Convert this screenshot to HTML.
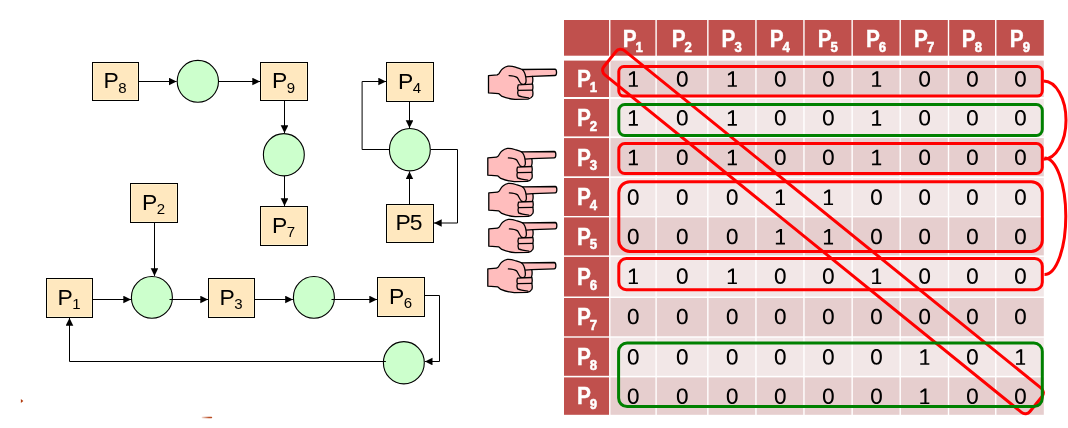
<!DOCTYPE html>
<html><head><meta charset="utf-8"><title>Deadlock matrix</title>
<style>
html,body{margin:0;padding:0;background:#fff;}
body{width:1068px;height:428px;overflow:hidden;position:relative;}
svg{position:absolute;left:0;top:0;display:block;will-change:transform;}
.th{font-family:"Liberation Sans",sans-serif;font-weight:bold;font-size:23.7px;fill:#fff;stroke:#fff;stroke-width:0.35px;text-anchor:middle;}
.tl{font-family:"Liberation Sans",sans-serif;font-size:22.9px;fill:#000;text-anchor:middle;}
.bx{fill:#FFE8BF;stroke:#000;stroke-width:1;}
.bxi{fill:none;stroke:#FFF1CC;stroke-width:1;}
.ci{fill:#CCFFCC;stroke:#000;stroke-width:1.1;}
.ln{fill:none;stroke:#000;stroke-width:1;}
.hf{fill:#FFBDBD;stroke:#000;stroke-width:1.3;stroke-linejoin:round;}
.hl{fill:none;stroke:#000;stroke-width:1.3;stroke-linecap:round;stroke-linejoin:round;}
</style></head>
<body>
<svg width="1068" height="428" viewBox="0 0 1068 428">
<defs>
<marker id="ah" markerWidth="8" markerHeight="8" refX="7.7" refY="3.8" orient="auto" markerUnits="userSpaceOnUse">
<path d="M0,0 L7.7,3.8 L0,7.6 Z" fill="#000"/>
</marker>
<g id="d1"><path d="M-0.45,-7.6 L1.6,-7.6 L1.6,6.3 L4.5,6.3 L4.5,7.9 L-4.6,7.9 L-4.6,6.3 L-0.45,6.3 L-0.45,-5.3 L-4,-3.2 L-4.6,-4.8 Z" fill="#000"/></g>
<g id="d0"><path d="M5.40,0.00 L5.36,1.38 L5.24,2.47 L5.05,3.44 L4.78,4.32 L4.43,5.11 L4.02,5.81 L3.54,6.41 L2.99,6.90 L2.38,7.29 L1.71,7.57 L0.95,7.74 L0.00,7.80 L-0.95,7.74 L-1.71,7.57 L-2.38,7.29 L-2.99,6.90 L-3.54,6.41 L-4.02,5.81 L-4.43,5.11 L-4.78,4.32 L-5.05,3.44 L-5.24,2.47 L-5.36,1.38 L-5.40,0.00 L-5.36,-1.38 L-5.24,-2.47 L-5.05,-3.44 L-4.78,-4.32 L-4.43,-5.11 L-4.02,-5.81 L-3.54,-6.41 L-2.99,-6.90 L-2.38,-7.29 L-1.71,-7.57 L-0.95,-7.74 L-0.00,-7.80 L0.95,-7.74 L1.71,-7.57 L2.38,-7.29 L2.99,-6.90 L3.54,-6.41 L4.02,-5.81 L4.43,-5.11 L4.78,-4.32 L5.05,-3.44 L5.24,-2.47 L5.36,-1.38Z M3.30,0.00 L3.28,1.07 L3.20,1.92 L3.08,2.67 L2.92,3.35 L2.71,3.97 L2.46,4.50 L2.16,4.97 L1.83,5.35 L1.46,5.66 L1.04,5.87 L0.58,6.01 L0.00,6.05 L-0.58,6.01 L-1.04,5.87 L-1.46,5.66 L-1.83,5.35 L-2.16,4.97 L-2.46,4.50 L-2.71,3.97 L-2.92,3.35 L-3.08,2.67 L-3.20,1.92 L-3.28,1.07 L-3.30,0.00 L-3.28,-1.07 L-3.20,-1.92 L-3.08,-2.67 L-2.92,-3.35 L-2.71,-3.97 L-2.46,-4.50 L-2.16,-4.97 L-1.83,-5.35 L-1.46,-5.66 L-1.04,-5.87 L-0.58,-6.01 L-0.00,-6.05 L0.58,-6.01 L1.04,-5.87 L1.46,-5.66 L1.83,-5.35 L2.16,-4.97 L2.46,-4.50 L2.71,-3.97 L2.92,-3.35 L3.08,-2.67 L3.20,-1.92 L3.28,-1.07Z" fill="#000" fill-rule="evenodd"/></g>
</defs>
<rect width="1068" height="428" fill="#fff"/>
<rect x="564" y="20" width="45.05" height="35.7" fill="#C0504D"/>
<rect x="610.45" y="20" width="44.95" height="35.7" fill="#C0504D"/>
<rect x="656.8" y="20" width="50.35" height="35.7" fill="#C0504D"/>
<rect x="708.55" y="20" width="46.7" height="35.7" fill="#C0504D"/>
<rect x="756.65" y="20" width="46.6" height="35.7" fill="#C0504D"/>
<rect x="804.65" y="20" width="46.8" height="35.7" fill="#C0504D"/>
<rect x="852.85" y="20" width="46.65" height="35.7" fill="#C0504D"/>
<rect x="900.9" y="20" width="46.9" height="35.7" fill="#C0504D"/>
<rect x="949.2" y="20" width="45.85" height="35.7" fill="#C0504D"/>
<rect x="996.45" y="20" width="47.35" height="35.7" fill="#C0504D"/>
<rect x="564" y="60.6" width="45.05" height="36.4" fill="#C0504D"/>
<rect x="610.45" y="60.6" width="44.95" height="36.4" fill="#E6CECE"/>
<rect x="656.8" y="60.6" width="50.35" height="36.4" fill="#E6CECE"/>
<rect x="708.55" y="60.6" width="46.7" height="36.4" fill="#E6CECE"/>
<rect x="756.65" y="60.6" width="46.6" height="36.4" fill="#E6CECE"/>
<rect x="804.65" y="60.6" width="46.8" height="36.4" fill="#E6CECE"/>
<rect x="852.85" y="60.6" width="46.65" height="36.4" fill="#E6CECE"/>
<rect x="900.9" y="60.6" width="46.9" height="36.4" fill="#E6CECE"/>
<rect x="949.2" y="60.6" width="45.85" height="36.4" fill="#E6CECE"/>
<rect x="996.45" y="60.6" width="47.35" height="36.4" fill="#E6CECE"/>
<rect x="564" y="99" width="45.05" height="37.4" fill="#C0504D"/>
<rect x="610.45" y="99" width="44.95" height="37.4" fill="#F2E7E7"/>
<rect x="656.8" y="99" width="50.35" height="37.4" fill="#F2E7E7"/>
<rect x="708.55" y="99" width="46.7" height="37.4" fill="#F2E7E7"/>
<rect x="756.65" y="99" width="46.6" height="37.4" fill="#F2E7E7"/>
<rect x="804.65" y="99" width="46.8" height="37.4" fill="#F2E7E7"/>
<rect x="852.85" y="99" width="46.65" height="37.4" fill="#F2E7E7"/>
<rect x="900.9" y="99" width="46.9" height="37.4" fill="#F2E7E7"/>
<rect x="949.2" y="99" width="45.85" height="37.4" fill="#F2E7E7"/>
<rect x="996.45" y="99" width="47.35" height="37.4" fill="#F2E7E7"/>
<rect x="564" y="138.1" width="45.05" height="38.2" fill="#C0504D"/>
<rect x="610.45" y="138.1" width="44.95" height="38.2" fill="#E6CECE"/>
<rect x="656.8" y="138.1" width="50.35" height="38.2" fill="#E6CECE"/>
<rect x="708.55" y="138.1" width="46.7" height="38.2" fill="#E6CECE"/>
<rect x="756.65" y="138.1" width="46.6" height="38.2" fill="#E6CECE"/>
<rect x="804.65" y="138.1" width="46.8" height="38.2" fill="#E6CECE"/>
<rect x="852.85" y="138.1" width="46.65" height="38.2" fill="#E6CECE"/>
<rect x="900.9" y="138.1" width="46.9" height="38.2" fill="#E6CECE"/>
<rect x="949.2" y="138.1" width="45.85" height="38.2" fill="#E6CECE"/>
<rect x="996.45" y="138.1" width="47.35" height="38.2" fill="#E6CECE"/>
<rect x="564" y="178" width="45.05" height="38" fill="#C0504D"/>
<rect x="610.45" y="178" width="44.95" height="38" fill="#F2E7E7"/>
<rect x="656.8" y="178" width="50.35" height="38" fill="#F2E7E7"/>
<rect x="708.55" y="178" width="46.7" height="38" fill="#F2E7E7"/>
<rect x="756.65" y="178" width="46.6" height="38" fill="#F2E7E7"/>
<rect x="804.65" y="178" width="46.8" height="38" fill="#F2E7E7"/>
<rect x="852.85" y="178" width="46.65" height="38" fill="#F2E7E7"/>
<rect x="900.9" y="178" width="46.9" height="38" fill="#F2E7E7"/>
<rect x="949.2" y="178" width="45.85" height="38" fill="#F2E7E7"/>
<rect x="996.45" y="178" width="47.35" height="38" fill="#F2E7E7"/>
<rect x="564" y="217.4" width="45.05" height="38" fill="#C0504D"/>
<rect x="610.45" y="217.4" width="44.95" height="38" fill="#E6CECE"/>
<rect x="656.8" y="217.4" width="50.35" height="38" fill="#E6CECE"/>
<rect x="708.55" y="217.4" width="46.7" height="38" fill="#E6CECE"/>
<rect x="756.65" y="217.4" width="46.6" height="38" fill="#E6CECE"/>
<rect x="804.65" y="217.4" width="46.8" height="38" fill="#E6CECE"/>
<rect x="852.85" y="217.4" width="46.65" height="38" fill="#E6CECE"/>
<rect x="900.9" y="217.4" width="46.9" height="38" fill="#E6CECE"/>
<rect x="949.2" y="217.4" width="45.85" height="38" fill="#E6CECE"/>
<rect x="996.45" y="217.4" width="47.35" height="38" fill="#E6CECE"/>
<rect x="564" y="256.9" width="45.05" height="39.6" fill="#C0504D"/>
<rect x="610.45" y="256.9" width="44.95" height="39.6" fill="#F2E7E7"/>
<rect x="656.8" y="256.9" width="50.35" height="39.6" fill="#F2E7E7"/>
<rect x="708.55" y="256.9" width="46.7" height="39.6" fill="#F2E7E7"/>
<rect x="756.65" y="256.9" width="46.6" height="39.6" fill="#F2E7E7"/>
<rect x="804.65" y="256.9" width="46.8" height="39.6" fill="#F2E7E7"/>
<rect x="852.85" y="256.9" width="46.65" height="39.6" fill="#F2E7E7"/>
<rect x="900.9" y="256.9" width="46.9" height="39.6" fill="#F2E7E7"/>
<rect x="949.2" y="256.9" width="45.85" height="39.6" fill="#F2E7E7"/>
<rect x="996.45" y="256.9" width="47.35" height="39.6" fill="#F2E7E7"/>
<rect x="564" y="298" width="45.05" height="38.3" fill="#C0504D"/>
<rect x="610.45" y="298" width="44.95" height="38.3" fill="#E6CECE"/>
<rect x="656.8" y="298" width="50.35" height="38.3" fill="#E6CECE"/>
<rect x="708.55" y="298" width="46.7" height="38.3" fill="#E6CECE"/>
<rect x="756.65" y="298" width="46.6" height="38.3" fill="#E6CECE"/>
<rect x="804.65" y="298" width="46.8" height="38.3" fill="#E6CECE"/>
<rect x="852.85" y="298" width="46.65" height="38.3" fill="#E6CECE"/>
<rect x="900.9" y="298" width="46.9" height="38.3" fill="#E6CECE"/>
<rect x="949.2" y="298" width="45.85" height="38.3" fill="#E6CECE"/>
<rect x="996.45" y="298" width="47.35" height="38.3" fill="#E6CECE"/>
<rect x="564" y="337.7" width="45.05" height="38.1" fill="#C0504D"/>
<rect x="610.45" y="337.7" width="44.95" height="38.1" fill="#F2E7E7"/>
<rect x="656.8" y="337.7" width="50.35" height="38.1" fill="#F2E7E7"/>
<rect x="708.55" y="337.7" width="46.7" height="38.1" fill="#F2E7E7"/>
<rect x="756.65" y="337.7" width="46.6" height="38.1" fill="#F2E7E7"/>
<rect x="804.65" y="337.7" width="46.8" height="38.1" fill="#F2E7E7"/>
<rect x="852.85" y="337.7" width="46.65" height="38.1" fill="#F2E7E7"/>
<rect x="900.9" y="337.7" width="46.9" height="38.1" fill="#F2E7E7"/>
<rect x="949.2" y="337.7" width="45.85" height="38.1" fill="#F2E7E7"/>
<rect x="996.45" y="337.7" width="47.35" height="38.1" fill="#F2E7E7"/>
<rect x="564" y="377.4" width="45.05" height="37.4" fill="#C0504D"/>
<rect x="610.45" y="377.4" width="44.95" height="37.4" fill="#E6CECE"/>
<rect x="656.8" y="377.4" width="50.35" height="37.4" fill="#E6CECE"/>
<rect x="708.55" y="377.4" width="46.7" height="37.4" fill="#E6CECE"/>
<rect x="756.65" y="377.4" width="46.6" height="37.4" fill="#E6CECE"/>
<rect x="804.65" y="377.4" width="46.8" height="37.4" fill="#E6CECE"/>
<rect x="852.85" y="377.4" width="46.65" height="37.4" fill="#E6CECE"/>
<rect x="900.9" y="377.4" width="46.9" height="37.4" fill="#E6CECE"/>
<rect x="949.2" y="377.4" width="45.85" height="37.4" fill="#E6CECE"/>
<rect x="996.45" y="377.4" width="47.35" height="37.4" fill="#E6CECE"/>
<text class="th" transform="translate(632.72,47) scale(0.88,1)">P<tspan font-size="15" stroke-width="0.55" dx="-1.2" dy="4.9">1</tspan></text>
<text class="th" transform="translate(681.77,47) scale(0.88,1)">P<tspan font-size="15" stroke-width="0.55" dx="-1.2" dy="4.9">2</tspan></text>
<text class="th" transform="translate(731.7,47) scale(0.88,1)">P<tspan font-size="15" stroke-width="0.55" dx="-1.2" dy="4.9">3</tspan></text>
<text class="th" transform="translate(779.75,47) scale(0.88,1)">P<tspan font-size="15" stroke-width="0.55" dx="-1.2" dy="4.9">4</tspan></text>
<text class="th" transform="translate(827.85,47) scale(0.88,1)">P<tspan font-size="15" stroke-width="0.55" dx="-1.2" dy="4.9">5</tspan></text>
<text class="th" transform="translate(875.97,47) scale(0.88,1)">P<tspan font-size="15" stroke-width="0.55" dx="-1.2" dy="4.9">6</tspan></text>
<text class="th" transform="translate(924.15,47) scale(0.88,1)">P<tspan font-size="15" stroke-width="0.55" dx="-1.2" dy="4.9">7</tspan></text>
<text class="th" transform="translate(971.92,47) scale(0.88,1)">P<tspan font-size="15" stroke-width="0.55" dx="-1.2" dy="4.9">8</tspan></text>
<text class="th" transform="translate(1019.92,47) scale(0.88,1)">P<tspan font-size="15" stroke-width="0.55" dx="-1.2" dy="4.9">9</tspan></text>
<text class="th" transform="translate(587.02,87.1) scale(0.88,1)">P<tspan font-size="15" stroke-width="0.55" dx="-1.2" dy="4.7">1</tspan></text>
<text class="th" transform="translate(587.02,126) scale(0.88,1)">P<tspan font-size="15" stroke-width="0.55" dx="-1.2" dy="4.7">2</tspan></text>
<text class="th" transform="translate(587.02,165.5) scale(0.88,1)">P<tspan font-size="15" stroke-width="0.55" dx="-1.2" dy="4.7">3</tspan></text>
<text class="th" transform="translate(587.02,205.3) scale(0.88,1)">P<tspan font-size="15" stroke-width="0.55" dx="-1.2" dy="4.7">4</tspan></text>
<text class="th" transform="translate(587.02,244.7) scale(0.88,1)">P<tspan font-size="15" stroke-width="0.55" dx="-1.2" dy="4.7">5</tspan></text>
<text class="th" transform="translate(587.02,285) scale(0.88,1)">P<tspan font-size="15" stroke-width="0.55" dx="-1.2" dy="4.7">6</tspan></text>
<text class="th" transform="translate(587.02,325.45) scale(0.88,1)">P<tspan font-size="15" stroke-width="0.55" dx="-1.2" dy="4.7">7</tspan></text>
<text class="th" transform="translate(587.02,365.05) scale(0.88,1)">P<tspan font-size="15" stroke-width="0.55" dx="-1.2" dy="4.7">8</tspan></text>
<text class="th" transform="translate(587.02,404.4) scale(0.88,1)">P<tspan font-size="15" stroke-width="0.55" dx="-1.2" dy="4.7">9</tspan></text>
<use href="#d1" x="633.42" y="78.9"/>
<use href="#d0" x="682.27" y="78.9"/>
<use href="#d1" x="732.4" y="78.9"/>
<use href="#d0" x="780.25" y="78.9"/>
<use href="#d0" x="828.35" y="78.9"/>
<use href="#d1" x="876.67" y="78.9"/>
<use href="#d0" x="924.65" y="78.9"/>
<use href="#d0" x="972.42" y="78.9"/>
<use href="#d0" x="1020.42" y="78.9"/>
<use href="#d1" x="633.42" y="117.8"/>
<use href="#d0" x="682.27" y="117.8"/>
<use href="#d1" x="732.4" y="117.8"/>
<use href="#d0" x="780.25" y="117.8"/>
<use href="#d0" x="828.35" y="117.8"/>
<use href="#d1" x="876.67" y="117.8"/>
<use href="#d0" x="924.65" y="117.8"/>
<use href="#d0" x="972.42" y="117.8"/>
<use href="#d0" x="1020.42" y="117.8"/>
<use href="#d1" x="633.42" y="157.3"/>
<use href="#d0" x="682.27" y="157.3"/>
<use href="#d1" x="732.4" y="157.3"/>
<use href="#d0" x="780.25" y="157.3"/>
<use href="#d0" x="828.35" y="157.3"/>
<use href="#d1" x="876.67" y="157.3"/>
<use href="#d0" x="924.65" y="157.3"/>
<use href="#d0" x="972.42" y="157.3"/>
<use href="#d0" x="1020.42" y="157.3"/>
<use href="#d0" x="633.22" y="197.1"/>
<use href="#d0" x="682.27" y="197.1"/>
<use href="#d0" x="732.2" y="197.1"/>
<use href="#d1" x="780.45" y="197.1"/>
<use href="#d1" x="828.55" y="197.1"/>
<use href="#d0" x="876.47" y="197.1"/>
<use href="#d0" x="924.65" y="197.1"/>
<use href="#d0" x="972.42" y="197.1"/>
<use href="#d0" x="1020.42" y="197.1"/>
<use href="#d0" x="633.22" y="236.5"/>
<use href="#d0" x="682.27" y="236.5"/>
<use href="#d0" x="732.2" y="236.5"/>
<use href="#d1" x="780.45" y="236.5"/>
<use href="#d1" x="828.55" y="236.5"/>
<use href="#d0" x="876.47" y="236.5"/>
<use href="#d0" x="924.65" y="236.5"/>
<use href="#d0" x="972.42" y="236.5"/>
<use href="#d0" x="1020.42" y="236.5"/>
<use href="#d1" x="633.42" y="276.1"/>
<use href="#d0" x="682.27" y="276.1"/>
<use href="#d1" x="732.4" y="276.1"/>
<use href="#d0" x="780.25" y="276.1"/>
<use href="#d0" x="828.35" y="276.1"/>
<use href="#d1" x="876.67" y="276.1"/>
<use href="#d0" x="924.65" y="276.1"/>
<use href="#d0" x="972.42" y="276.1"/>
<use href="#d0" x="1020.42" y="276.1"/>
<use href="#d0" x="633.22" y="316.55"/>
<use href="#d0" x="682.27" y="316.55"/>
<use href="#d0" x="732.2" y="316.55"/>
<use href="#d0" x="780.25" y="316.55"/>
<use href="#d0" x="828.35" y="316.55"/>
<use href="#d0" x="876.47" y="316.55"/>
<use href="#d0" x="924.65" y="316.55"/>
<use href="#d0" x="972.42" y="316.55"/>
<use href="#d0" x="1020.42" y="316.55"/>
<use href="#d0" x="633.22" y="356.85"/>
<use href="#d0" x="682.27" y="356.85"/>
<use href="#d0" x="732.2" y="356.85"/>
<use href="#d0" x="780.25" y="356.85"/>
<use href="#d0" x="828.35" y="356.85"/>
<use href="#d0" x="876.47" y="356.85"/>
<use href="#d1" x="924.85" y="356.85"/>
<use href="#d0" x="972.42" y="356.85"/>
<use href="#d1" x="1020.62" y="356.85"/>
<use href="#d0" x="633.22" y="396.2"/>
<use href="#d0" x="682.27" y="396.2"/>
<use href="#d0" x="732.2" y="396.2"/>
<use href="#d0" x="780.25" y="396.2"/>
<use href="#d0" x="828.35" y="396.2"/>
<use href="#d0" x="876.47" y="396.2"/>
<use href="#d1" x="924.85" y="396.2"/>
<use href="#d0" x="972.42" y="396.2"/>
<use href="#d0" x="1020.42" y="396.2"/>
<rect x="92.5" y="62.5" width="46" height="38" class="bx"/>
<rect x="93.5" y="63.5" width="44" height="36" class="bxi"/>
<text class="tl" x="115" y="88.3">P<tspan font-size="15" dx="-0.6" dy="4.4">8</tspan></text>
<rect x="260.5" y="62.5" width="47" height="38" class="bx"/>
<rect x="261.5" y="63.5" width="45" height="36" class="bxi"/>
<text class="tl" x="283.5" y="88.3">P<tspan font-size="15" dx="-0.6" dy="4.4">9</tspan></text>
<rect x="386.5" y="62.5" width="47" height="39" class="bx"/>
<rect x="387.5" y="63.5" width="45" height="37" class="bxi"/>
<text class="tl" x="409.5" y="88.8">P<tspan font-size="15" dx="-0.6" dy="4.4">4</tspan></text>
<rect x="260.5" y="206.5" width="47" height="39" class="bx"/>
<rect x="261.5" y="207.5" width="45" height="37" class="bxi"/>
<text class="tl" x="283.5" y="232.8">P<tspan font-size="15" dx="-0.6" dy="4.4">7</tspan></text>
<rect x="386.5" y="204.5" width="47" height="38" class="bx"/>
<rect x="387.5" y="205.5" width="45" height="36" class="bxi"/>
<text class="tl" letter-spacing="-0.9" x="408.5" y="230.3">P5</text>
<rect x="130.5" y="183.5" width="47" height="39" class="bx"/>
<rect x="131.5" y="184.5" width="45" height="37" class="bxi"/>
<text class="tl" x="153.5" y="209.8">P<tspan font-size="15" dx="-0.6" dy="4.4">2</tspan></text>
<rect x="46.5" y="278.5" width="46" height="39" class="bx"/>
<rect x="47.5" y="279.5" width="44" height="37" class="bxi"/>
<text class="tl" x="69" y="304.8">P<tspan font-size="15" dx="-0.6" dy="4.4">1</tspan></text>
<rect x="208.5" y="278.5" width="46" height="39" class="bx"/>
<rect x="209.5" y="279.5" width="44" height="37" class="bxi"/>
<text class="tl" x="231" y="304.8">P<tspan font-size="15" dx="-0.6" dy="4.4">3</tspan></text>
<rect x="377.5" y="277.5" width="47" height="39" class="bx"/>
<rect x="378.5" y="278.5" width="45" height="37" class="bxi"/>
<text class="tl" x="400.5" y="303.8">P<tspan font-size="15" dx="-0.6" dy="4.4">6</tspan></text>
<ellipse cx="197.85" cy="81.3" rx="20.65" ry="20.9" class="ci"/>
<ellipse cx="283.85" cy="154.75" rx="20.45" ry="21.15" class="ci"/>
<ellipse cx="409.85" cy="149.7" rx="20.45" ry="21.2" class="ci"/>
<ellipse cx="151.9" cy="297.4" rx="20.5" ry="20.9" class="ci"/>
<ellipse cx="313.9" cy="297.4" rx="20.5" ry="20.9" class="ci"/>
<ellipse cx="403.85" cy="362.75" rx="20.45" ry="21.15" class="ci"/>
<path d="M138,81.5 L176.6,81.5" class="ln" marker-end="url(#ah)"/>
<path d="M219,81.5 L260,81.5" class="ln" marker-end="url(#ah)"/>
<path d="M284.5,101 L284.5,133" class="ln" marker-end="url(#ah)"/>
<path d="M284.5,176 L284.5,206" class="ln" marker-end="url(#ah)"/>
<path d="M409.5,102 L409.5,128" class="ln" marker-end="url(#ah)"/>
<path d="M389,149.5 L362.1,149.5 L362.1,81.5 L386,81.5" class="ln" marker-end="url(#ah)"/>
<path d="M430.8,149.5 L457.5,149.5 L457.5,223 L434,223" class="ln" marker-end="url(#ah)"/>
<path d="M409.5,204 L409.5,171.5" class="ln" marker-end="url(#ah)"/>
<path d="M154.5,222 L154.5,275.9" class="ln" marker-end="url(#ah)"/>
<path d="M92,299.5 L131,299.5" class="ln" marker-end="url(#ah)"/>
<path d="M169.5,299.5 L208,299.5" class="ln" marker-end="url(#ah)"/>
<path d="M254,299.5 L292.9,299.5" class="ln" marker-end="url(#ah)"/>
<path d="M331.5,299.5 L377,299.5" class="ln" marker-end="url(#ah)"/>
<path d="M424,295.5 L439.5,295.5 L439.5,361.5 L424.8,361.5" class="ln" marker-end="url(#ah)"/>
<path d="M385.9,361.5 L69.5,361.5 L69.5,318" class="ln" marker-end="url(#ah)"/>
<g transform="translate(487,62)"><path d="M1.5,13.6 L10.2,12.9 L12,11.7 C13.2,9.8 14,8 15.6,6.8 C17,5.6 18.8,4.4 21,4.1 C23.5,3.9 26,4.3 28.5,5.2 C30.5,5.9 33,6.8 35.2,7.5 L67.9,7.2 C70.1,7.4 70.1,13.4 67.9,13.5 L45.4,14.4 C46,15.8 46,19.8 45.3,21.3 C45.9,23 46,26.3 45.5,28.1 C46,30 46,32.5 45.6,34 C44.8,35.6 43,36.6 41,37.1 L28,37.3 C23.5,37 18.5,35.8 14.5,34.1 L11.6,31.6 L1.5,30.9 Z" class="hf"/><path d="M22.1,13.6 C25,13.7 28.5,14.3 30.3,15.6 C31.5,17.2 32.4,19.7 33.8,21.4 C35,22.6 37.2,22.4 38.4,21.4 C39.3,20.3 39.1,17.5 38.8,15.5 C38.4,12.5 37.2,9.2 35.2,7.5 M38.6,14.8 L45.4,14.4 M31.2,22.9 L45.3,22.2 M31.2,22.9 C30.6,24.4 30.6,26.7 31.1,28.3 L45.5,28.1 M31.1,28.3 C30.5,30 30.6,32 31.3,33.6 C34,34.8 38,35.4 41.5,35.9 " class="hl"/></g>
<g transform="translate(486.3,144.3)"><path d="M1.5,13.6 L10.2,12.9 L12,11.7 C13.2,9.8 14,8 15.6,6.8 C17,5.6 18.8,4.4 21,4.1 C23.5,3.9 26,4.3 28.5,5.2 C30.5,5.9 33,6.8 35.2,7.5 L67.9,7.2 C70.1,7.4 70.1,13.4 67.9,13.5 L45.4,14.4 C46,15.8 46,19.8 45.3,21.3 C45.9,23 46,26.3 45.5,28.1 C46,30 46,32.5 45.6,34 C44.8,35.6 43,36.6 41,37.1 L28,37.3 C23.5,37 18.5,35.8 14.5,34.1 L11.6,31.6 L1.5,30.9 Z" class="hf"/><path d="M22.1,13.6 C25,13.7 28.5,14.3 30.3,15.6 C31.5,17.2 32.4,19.7 33.8,21.4 C35,22.6 37.2,22.4 38.4,21.4 C39.3,20.3 39.1,17.5 38.8,15.5 C38.4,12.5 37.2,9.2 35.2,7.5 M38.6,14.8 L45.4,14.4 M31.2,22.9 L45.3,22.2 M31.2,22.9 C30.6,24.4 30.6,26.7 31.1,28.3 L45.5,28.1 M31.1,28.3 C30.5,30 30.6,32 31.3,33.6 C34,34.8 38,35.4 41.5,35.9 " class="hl"/></g>
<g transform="translate(487.3,179.3)"><path d="M1.5,13.6 L10.2,12.9 L12,11.7 C13.2,9.8 14,8 15.6,6.8 C17,5.6 18.8,4.4 21,4.1 C23.5,3.9 26,4.3 28.5,5.2 C30.5,5.9 33,6.8 35.2,7.5 L67.9,7.2 C70.1,7.4 70.1,13.4 67.9,13.5 L45.4,14.4 C46,15.8 46,19.8 45.3,21.3 C45.9,23 46,26.3 45.5,28.1 C46,30 46,32.5 45.6,34 C44.8,35.6 43,36.6 41,37.1 L28,37.3 C23.5,37 18.5,35.8 14.5,34.1 L11.6,31.6 L1.5,30.9 Z" class="hf"/><path d="M22.1,13.6 C25,13.7 28.5,14.3 30.3,15.6 C31.5,17.2 32.4,19.7 33.8,21.4 C35,22.6 37.2,22.4 38.4,21.4 C39.3,20.3 39.1,17.5 38.8,15.5 C38.4,12.5 37.2,9.2 35.2,7.5 M38.6,14.8 L45.4,14.4 M31.2,22.9 L45.3,22.2 M31.2,22.9 C30.6,24.4 30.6,26.7 31.1,28.3 L45.5,28.1 M31.1,28.3 C30.5,30 30.6,32 31.3,33.6 C34,34.8 38,35.4 41.5,35.9 " class="hl"/></g>
<g transform="translate(487.3,215.3)"><path d="M1.5,13.6 L10.2,12.9 L12,11.7 C13.2,9.8 14,8 15.6,6.8 C17,5.6 18.8,4.4 21,4.1 C23.5,3.9 26,4.3 28.5,5.2 C30.5,5.9 33,6.8 35.2,7.5 L67.9,7.2 C70.1,7.4 70.1,13.4 67.9,13.5 L45.4,14.4 C46,15.8 46,19.8 45.3,21.3 C45.9,23 46,26.3 45.5,28.1 C46,30 46,32.5 45.6,34 C44.8,35.6 43,36.6 41,37.1 L28,37.3 C23.5,37 18.5,35.8 14.5,34.1 L11.6,31.6 L1.5,30.9 Z" class="hf"/><path d="M22.1,13.6 C25,13.7 28.5,14.3 30.3,15.6 C31.5,17.2 32.4,19.7 33.8,21.4 C35,22.6 37.2,22.4 38.4,21.4 C39.3,20.3 39.1,17.5 38.8,15.5 C38.4,12.5 37.2,9.2 35.2,7.5 M38.6,14.8 L45.4,14.4 M31.2,22.9 L45.3,22.2 M31.2,22.9 C30.6,24.4 30.6,26.7 31.1,28.3 L45.5,28.1 M31.1,28.3 C30.5,30 30.6,32 31.3,33.6 C34,34.8 38,35.4 41.5,35.9 " class="hl"/></g>
<g transform="translate(486.3,255.3)"><path d="M1.5,13.6 L10.2,12.9 L12,11.7 C13.2,9.8 14,8 15.6,6.8 C17,5.6 18.8,4.4 21,4.1 C23.5,3.9 26,4.3 28.5,5.2 C30.5,5.9 33,6.8 35.2,7.5 L67.9,7.2 C70.1,7.4 70.1,13.4 67.9,13.5 L45.4,14.4 C46,15.8 46,19.8 45.3,21.3 C45.9,23 46,26.3 45.5,28.1 C46,30 46,32.5 45.6,34 C44.8,35.6 43,36.6 41,37.1 L28,37.3 C23.5,37 18.5,35.8 14.5,34.1 L11.6,31.6 L1.5,30.9 Z" class="hf"/><path d="M22.1,13.6 C25,13.7 28.5,14.3 30.3,15.6 C31.5,17.2 32.4,19.7 33.8,21.4 C35,22.6 37.2,22.4 38.4,21.4 C39.3,20.3 39.1,17.5 38.8,15.5 C38.4,12.5 37.2,9.2 35.2,7.5 M38.6,14.8 L45.4,14.4 M31.2,22.9 L45.3,22.2 M31.2,22.9 C30.6,24.4 30.6,26.7 31.1,28.3 L45.5,28.1 M31.1,28.3 C30.5,30 30.6,32 31.3,33.6 C34,34.8 38,35.4 41.5,35.9 " class="hl"/></g>
<rect x="-274.1" y="-15.6" width="548.2" height="31.2" rx="6" fill="none" stroke="#FF0000" stroke-width="3" transform="translate(823,231.5) rotate(39)"/>
<rect x="618.8" y="66.6" width="423.5" height="29.5" rx="5" fill="none" stroke="#FF0000" stroke-width="3"/>
<rect x="618.8" y="143.6" width="423.5" height="29.9" rx="6" fill="none" stroke="#FF0000" stroke-width="3"/>
<rect x="618.8" y="181.7" width="423.5" height="69.7" rx="11" fill="none" stroke="#FF0000" stroke-width="3"/>
<rect x="618.8" y="258.6" width="423.5" height="31.1" rx="7.5" fill="none" stroke="#FF0000" stroke-width="3"/>
<rect x="618.8" y="104.5" width="423.5" height="31" rx="6" fill="none" stroke="#008000" stroke-width="3"/>
<rect x="618.6" y="343" width="423.7" height="63.6" rx="8.5" fill="none" stroke="#008000" stroke-width="3"/>
<path d="M1043.5,81.1 A22.5,39.1 0 0 1 1043.5,159.3" fill="none" stroke="#FF0000" stroke-width="3"/>
<path d="M1044.5,158 A21.3,58.3 0 0 1 1044.5,274.6" fill="none" stroke="#FF0000" stroke-width="3"/>
<path d="M20.9,399 L23.3,401 L20.9,403 Z" fill="#B23A0C"/>
<defs><linearGradient id="sg" x1="0" x2="1" y1="0" y2="0"><stop offset="0" stop-color="#B23A0C" stop-opacity="0.15"/><stop offset="0.7" stop-color="#B23A0C" stop-opacity="0.9"/><stop offset="1" stop-color="#B23A0C" stop-opacity="0.9"/></linearGradient></defs><rect x="201.6" y="416.7" width="10.6" height="1.5" rx="0.7" fill="url(#sg)"/>
</svg>
</body></html>
